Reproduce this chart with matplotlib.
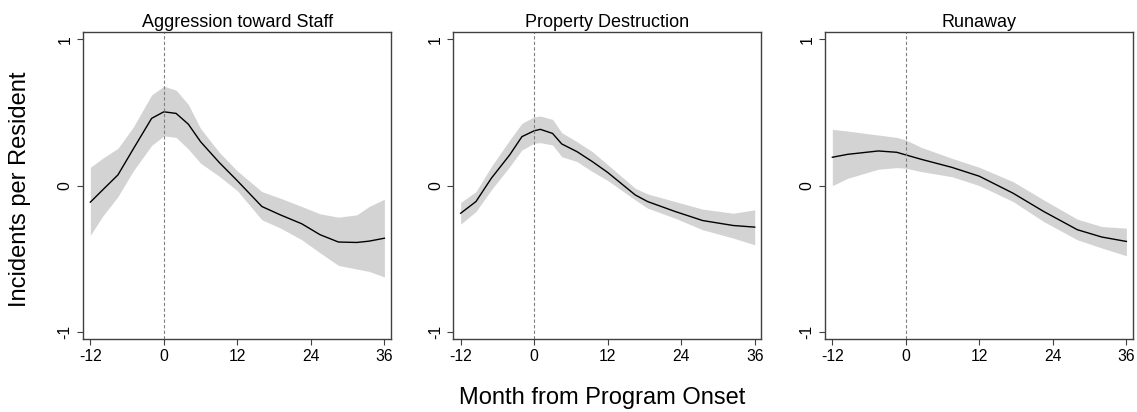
import matplotlib
matplotlib.use("Agg")
import matplotlib.pyplot as plt

plt.rcParams['font.family'] = ['Liberation Sans', 'DejaVu Sans']

titles = ["Aggression toward Staff", "Property Destruction", "Runaway"]

aggr_months = [-12, -10, -7.5, -5, -2, 0, 2, 4, 6, 9, 12, 16, 19, 22.5, 25.5, 28.5, 31.5, 33.5, 36]
aggr_mid = [-0.113, -0.03, 0.073, 0.25, 0.46, 0.505, 0.494, 0.42, 0.30, 0.16, 0.033, -0.143, -0.20, -0.261, -0.336, -0.386, -0.389, -0.38, -0.36]
aggr_hi = [0.125, 0.187, 0.255, 0.40, 0.62, 0.68, 0.653, 0.555, 0.39, 0.23, 0.10, -0.041, -0.086, -0.143, -0.193, -0.216, -0.20, -0.143, -0.093]
aggr_lo = [-0.34, -0.21, -0.075, 0.10, 0.275, 0.34, 0.33, 0.25, 0.153, 0.065, -0.035, -0.234, -0.29, -0.37, -0.46, -0.546, -0.571, -0.587, -0.625]

prop_months = [-12, -9.5, -7, -4, -2, 0, 1, 3, 4.5, 7, 9.5, 12, 16.5, 18.5, 23, 27.5, 32.5, 36]
prop_mid = [-0.189, -0.109, 0.05, 0.21, 0.335, 0.375, 0.385, 0.357, 0.285, 0.232, 0.164, 0.09, -0.064, -0.109, -0.177, -0.239, -0.273, -0.284]
prop_hi = [-0.116, -0.041, 0.13, 0.312, 0.426, 0.471, 0.476, 0.453, 0.362, 0.30, 0.232, 0.143, -0.018, -0.057, -0.109, -0.161, -0.189, -0.166]
prop_lo = [-0.264, -0.177, -0.029, 0.13, 0.244, 0.29, 0.294, 0.278, 0.198, 0.164, 0.096, 0.035, -0.098, -0.154, -0.223, -0.302, -0.359, -0.405]

run_months = [-12, -9.5, -4.5, -1.5, 0, 2.5, 7.5, 12, 17.5, 22.5, 28, 32, 36]
run_mid = [0.194, 0.214, 0.237, 0.228, 0.21, 0.18, 0.125, 0.064, -0.052, -0.177, -0.302, -0.352, -0.382]
run_hi = [0.385, 0.373, 0.346, 0.33, 0.312, 0.262, 0.187, 0.125, 0.027, -0.098, -0.23, -0.28, -0.291]
run_lo = [0.0, 0.05, 0.112, 0.123, 0.119, 0.096, 0.061, 0.0, -0.109, -0.246, -0.371, -0.427, -0.48]

series = [
    (aggr_months, aggr_mid, aggr_lo, aggr_hi),
    (prop_months, prop_mid, prop_lo, prop_hi),
    (run_months, run_mid, run_lo, run_hi),
]

xticks = [-12, 0, 12, 24, 36]
yticks = [-1, 0, 1]

fig = plt.figure(figsize=(11.37, 4.12), dpi=100)
lefts = [0.073, 0.3987, 0.7256]
frame_col = "#404040"
for i, left in enumerate(lefts):
    ax = fig.add_axes([left, 0.177, 0.271, 0.745])
    months, mid, lo, hi = series[i]
    ax.fill_between(months, lo, hi, color="#d3d3d3", linewidth=0)
    ax.plot(months, mid, color="black", linewidth=1.0)
    ax.axvline(0, color="#808080", linestyle=(0, (3, 2)), linewidth=0.8)
    ax.set_xlim(-13.2, 37.1)
    ax.set_ylim(-1.05, 1.05)
    ax.set_xticks(xticks)
    ax.set_xticklabels([str(t) for t in xticks])
    ax.set_yticks(yticks)
    ax.set_yticklabels([str(t) for t in yticks], rotation=90, va="center")
    ax.tick_params(direction="out", length=4, width=0.8, colors=frame_col,
                   labelcolor="black", labelsize=11.3)
    for s in ax.spines.values():
        s.set_color(frame_col)
        s.set_linewidth(1.0)
    ax.set_title(titles[i], fontsize=13, pad=4)

fig.text(0.018, 0.541, "Incidents per Resident", rotation=90, va="center", ha="center", fontsize=17)
fig.text(0.530, 0.034, "Month from Program Onset", va="center", ha="center", fontsize=17)

fig.savefig("out.png", dpi=100)
